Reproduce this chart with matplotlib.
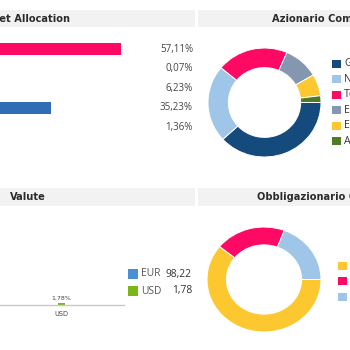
import matplotlib
matplotlib.use("Agg")
from matplotlib import pyplot as plt
from matplotlib.patches import Rectangle

# --- data ---
asset_classes = ["Obbligazionario", "Monetario", "Altro", "Azionario", "Liquidità"]
asset_values = [57.11, 0.07, 6.23, 35.23, 1.36]
asset_colors = ["#fe0a64", "#9fc5e8", "#fdc82f", "#2f6db5", "#4f7a28"]

equity_labels = ["Globale", "Nord America", "Tecnologia", "Europa", "Emergenti", "Asia"]
equity_values = [38.2, 22.8, 20.5, 10.1, 6.4, 2.0]
equity_colors = ["#144a7c", "#9fc5e8", "#fe0a64", "#8496b0", "#fdc82f", "#4f7a28"]

currencies = ["EUR", "USD"]
currency_values = [98.22, 1.78]
currency_colors = ["#4a90d2", "#7cb518"]

bond_labels = ["Governativo", "Corporate", "High Yield"]
bond_values = [60.8, 20.0, 19.2]
bond_colors = ["#fdc82f", "#fe0a64", "#9fc5e8"]

W = H = 350


def rect(x, y, w, h):
    # pixel box (top-left origin) -> figure fraction
    return [x / W, 1 - (y + h) / H, w / W, h / H]


def fmt(v, pct=True):
    s = f"{v:.2f}".replace(".", ",")
    return s + "%" if pct else s


fig = plt.figure(figsize=(3.5, 3.5), dpi=100)
fig.patch.set_facecolor("white")

# background layer for headers and legends
bg = fig.add_axes([0, 0, 1, 1], zorder=0)
bg.set_xlim(0, W)
bg.set_ylim(H, 0)
bg.axis("off")

head_font = dict(family="DejaVu Sans", fontweight="bold", fontsize=7.1, color="#2b2b2b", va="center")
for (x0, x1, y0, y1) in [(0, 195, 10, 27), (198, 350, 10, 27), (0, 195, 188, 206), (198, 350, 188, 206)]:
    bg.add_patch(Rectangle((x0, y0), x1 - x0, y1 - y0, facecolor="#f2f2f2", edgecolor="none"))
bg.text(70, 18.5, "Asset Allocation", ha="right", **head_font)
bg.text(272, 18.5, "Azionario Composizione", ha="left", **head_font)
bg.text(10, 197, "Valute", ha="left", **head_font)
bg.text(257, 197, "Obbligazionario Geografico", ha="left", **head_font)

num_font = ["Open Sans", "DejaVu Sans"]

# --- Asset Allocation horizontal bars ---
ax1 = fig.add_axes(rect(-62, 39.5, 250, 97.5), zorder=1)
ax1.barh(range(len(asset_values)), asset_values, height=0.6, color=asset_colors)
ax1.set_xlim(0, 250 / 3.2)
ax1.set_ylim(len(asset_values) - 0.5, -0.5)
ax1.set_yticks(range(len(asset_classes)), asset_classes)
ax1.axis("off")
for i, v in enumerate(asset_values):
    ax1.text(1.02, i, fmt(v), transform=ax1.get_yaxis_transform(), ha="right", va="center",
             fontsize=7, color="#444444", family=num_font)

# --- donuts ---
def donut(box, values, colors, width):
    ax = fig.add_axes(rect(*box), zorder=1)
    ax.pie(values, colors=colors, startangle=0, counterclock=False, radius=1,
           wedgeprops=dict(width=width, edgecolor="white", linewidth=0.7))
    ax.set_aspect("auto")
    ax.set_xlim(-1, 1)
    ax.set_ylim(-1, 1)
    return ax


donut((208, 48, 113, 109), equity_values, equity_colors, 0.36)
donut((207, 227, 114, 105), bond_values, bond_colors, 0.34)

for i, (lab, c) in enumerate(zip(equity_labels, equity_colors)):
    y = 64 + i * 15.4
    bg.add_patch(Rectangle((332, y - 4), 9, 8, facecolor=c, edgecolor="none"))
    bg.text(344, y, lab, ha="left", va="center", fontsize=7.6, color="#333333", family=num_font)

for i, (lab, c) in enumerate(zip(bond_labels, bond_colors)):
    y = 265.5 + i * 15.7
    bg.add_patch(Rectangle((338, y - 4), 9, 8, facecolor=c, edgecolor="none"))
    bg.text(352, y, lab, ha="left", va="center", fontsize=7.6, color="#333333", family=num_font)

# --- Valute column chart ---
ax3 = fig.add_axes(rect(-126, 215, 250, 90), zorder=1)
bars = ax3.bar(range(len(currency_values)), currency_values, width=0.05, color=currency_colors)
ax3.set_xlim(-0.5, len(currency_values) - 0.5)
ax3.set_ylim(0, 100)
for s in ["top", "left", "right"]:
    ax3.spines[s].set_visible(False)
ax3.spines["bottom"].set_color("#c8c8c8")
ax3.spines["bottom"].set_linewidth(1)
ax3.set_yticks([])
ax3.set_xticks(range(len(currencies)), currencies)
ax3.tick_params(axis="x", length=0, pad=4, labelsize=4.8, labelcolor="#444444")
ax3.patch.set_alpha(0)
ax3.bar_label(bars, labels=[fmt(v) for v in currency_values], padding=2, fontsize=4.5, color="#444444")

for i, (cur, v, c) in enumerate(zip(currencies, currency_values, currency_colors)):
    y = 274 + i * 17
    bg.add_patch(Rectangle((128, y - 5), 10, 10, facecolor=c, edgecolor="none"))
    bg.text(141, y, cur, ha="left", va="center", fontsize=7.4, color="#555555", family=num_font)
    bg.text(192, y, fmt(v, pct=False), ha="right", va="center", fontsize=7.4, color="#333333", family=num_font)

fig.savefig("out.png", dpi=100)
